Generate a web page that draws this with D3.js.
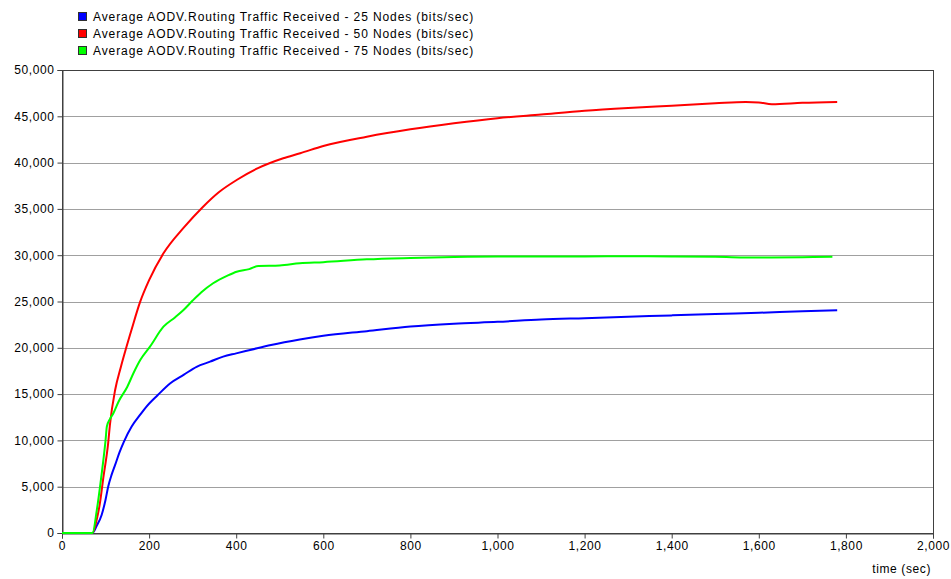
<!DOCTYPE html>
<html>
<head>
<meta charset="utf-8" />
<title>Average AODV Routing Traffic Received</title>
<style>
html, body {
    margin: 0;
    padding: 0;
    background: #fff;
}
#chart {
    width: 951px;
    height: 579px;
}
text {
    font-family: "Liberation Sans", Arial, sans-serif;
}
</style>
</head>
<body>
<div id="chart"></div>
<script src="https://cdn.jsdelivr.net/npm/d3@7"></script>
<script>
// series values (time in sec, bits/sec)
var timeNodes25 = [0, 70, 80, 91, 100, 106, 114, 122, 132, 142, 160, 180, 194, 220, 248, 280, 309, 340, 370, 400, 432, 480, 546, 600, 700, 800, 900, 1000, 1100, 1200, 1300, 1400, 1500, 1600, 1700, 1780]
var valNodes25 = [0, 0, 800, 1950, 3600, 5000, 6300, 7350, 8700, 9850, 11500, 12800, 13650, 14900, 16150, 17100, 17950, 18500, 19050, 19400, 19760, 20300, 20900, 21300, 21800, 22300, 22600, 22800, 23050, 23200, 23350, 23500, 23650, 23780, 23950, 24050]

var timeNodes50 = [0, 70, 80, 87, 95, 106, 110, 122, 135, 145, 160, 179, 200, 233, 280, 324, 360, 401, 450, 508, 547, 600, 700, 800, 900, 1000, 1100, 1200, 1300, 1400, 1500, 1570, 1600, 1630, 1700, 1780]
var valNodes50 = [0, 0, 1500, 3200, 6000, 9700, 11660, 15440, 17900, 19600, 22000, 24900, 27300, 30200, 33000, 35240, 36800, 38120, 39400, 40470, 41010, 41800, 42800, 43600, 44250, 44800, 45200, 45600, 45900, 46150, 46400, 46550, 46500, 46300, 46450, 46550]

var timeNodes75 = [0, 70, 80, 90, 100, 103, 110, 118, 130, 150, 164, 180, 202, 233, 260, 279, 300, 320, 347, 380, 401, 430, 451, 500, 546, 600, 700, 800, 900, 1000, 1100, 1200, 1300, 1400, 1500, 1600, 1700, 1769]
var valNodes75 = [0, 0, 2500, 6000, 10000, 11500, 12300, 12930, 14200, 15800, 17250, 18700, 20120, 22280, 23300, 24080, 25100, 26000, 26970, 27800, 28220, 28500, 28840, 28900, 29130, 29250, 29550, 29700, 29800, 29850, 29850, 29870, 29880, 29870, 29820, 29750, 29780, 29820]

var seriesNames = [
    "Average AODV.Routing Traffic Received - 25 Nodes (bits/sec)",
    "Average AODV.Routing Traffic Received - 50 Nodes (bits/sec)",
    "Average AODV.Routing Traffic Received - 75 Nodes (bits/sec)"
]
var seriesColors = ["#0000ff", "#ff0000", "#00ff00"]

var xTicks = [0, 200, 400, 600, 800, 1000, 1200, 1400, 1600, 1800, 2000]
var yTicks = [0, 5000, 10000, 15000, 20000, 25000, 30000, 35000, 40000, 45000, 50000]
var xLabel = "time (sec)"

!(function(){
    "use strict"

    var width = 951, height = 579
    var margin = {top: 70, left: 62, bottom: 46, right: 18}
    var chartWidth = width - margin.left - margin.right
    var chartHeight = height - margin.top - margin.bottom

    var svg = d3.select("#chart").append("svg")
        .attr("width", width)
        .attr("height", height)

    var series = [
        {name: seriesNames[0], color: seriesColors[0], t: timeNodes25, v: valNodes25},
        {name: seriesNames[1], color: seriesColors[1], t: timeNodes50, v: valNodes50},
        {name: seriesNames[2], color: seriesColors[2], t: timeNodes75, v: valNodes75}
    ]

    var x = d3.scaleLinear().domain([0, 2000]).range([0, chartWidth])
    var y = d3.scaleLinear().domain([0, 50000]).range([chartHeight, 0])
    var fmt = d3.format(",")

    var chartLayer = svg.append("g")
        .attr("transform", "translate(" + [margin.left, margin.top] + ")")

    // horizontal grid
    chartLayer.append("g")
        .selectAll("line")
        .data(yTicks)
        .enter().append("line")
        .attr("x1", 0)
        .attr("x2", chartWidth)
        .attr("y1", function(d){ return Math.round(y(d)) + 0.5 })
        .attr("y2", function(d){ return Math.round(y(d)) + 0.5 })
        .attr("stroke", "#a0a0a0")
        .attr("stroke-width", 1)

    // frame
    chartLayer.append("rect")
        .attr("x", 0.5).attr("y", 0.5)
        .attr("width", chartWidth).attr("height", chartHeight)
        .attr("fill", "none")
        .attr("stroke", "#404040")
        .attr("stroke-width", 1)

    var xAxis = chartLayer.append("g")
        .attr("transform", "translate(0," + (chartHeight + 0.5) + ")")
        .call(d3.axisBottom(x).tickValues(xTicks).tickFormat(fmt).tickSize(5).tickPadding(3))
    var yAxis = chartLayer.append("g")
        .attr("transform", "translate(0.5,0)")
        .call(d3.axisLeft(y).tickValues(yTicks).tickFormat(fmt).tickSize(5).tickPadding(3))

    ;[xAxis, yAxis].forEach(function(a){
        a.select(".domain").attr("stroke", "#404040")
        a.selectAll(".tick line").attr("stroke", "#404040")
        a.selectAll(".tick text")
            .attr("fill", "#000")
            .style("font-family", "'Liberation Sans', Arial, sans-serif")
            .style("font-size", "12px")
            .style("letter-spacing", "0.6px")
    })

    // lines
    var line = d3.line()
        .curve(d3.curveMonotoneX)
        .x(function(d){ return x(d[0]) })
        .y(function(d){ return y(d[1]) })

    chartLayer.append("g")
        .selectAll("path")
        .data(series)
        .enter().append("path")
        .attr("d", function(s){ return line(s.t.map(function(t, i){ return [t, s.v[i]] })) })
        .attr("fill", "none")
        .attr("stroke", function(s){ return s.color })
        .attr("stroke-width", 2)
        .attr("stroke-linejoin", "round")

    // axis title
    svg.append("text")
        .attr("x", 931)
        .attr("y", 573)
        .attr("text-anchor", "end")
        .attr("font-size", "12px")
        .style("letter-spacing", "0.6px")
        .attr("fill", "#000")
        .text(xLabel)

    // legend
    var legend = svg.append("g")
        .selectAll("g")
        .data(series)
        .enter().append("g")
        .attr("transform", function(d, i){ return "translate(78," + (12 + i * 17) + ")" })

    legend.append("rect")
        .attr("x", 0.5).attr("y", 0.5)
        .attr("width", 8).attr("height", 8)
        .attr("fill", function(d){ return d.color })
        .attr("stroke", "#303030")

    legend.append("text")
        .attr("x", 15)
        .attr("y", 8.5)
        .attr("font-size", "12px")
        .style("letter-spacing", "0.9px")
        .attr("fill", "#000")
        .text(function(d){ return d.name })
}());
</script>
</body>
</html>
